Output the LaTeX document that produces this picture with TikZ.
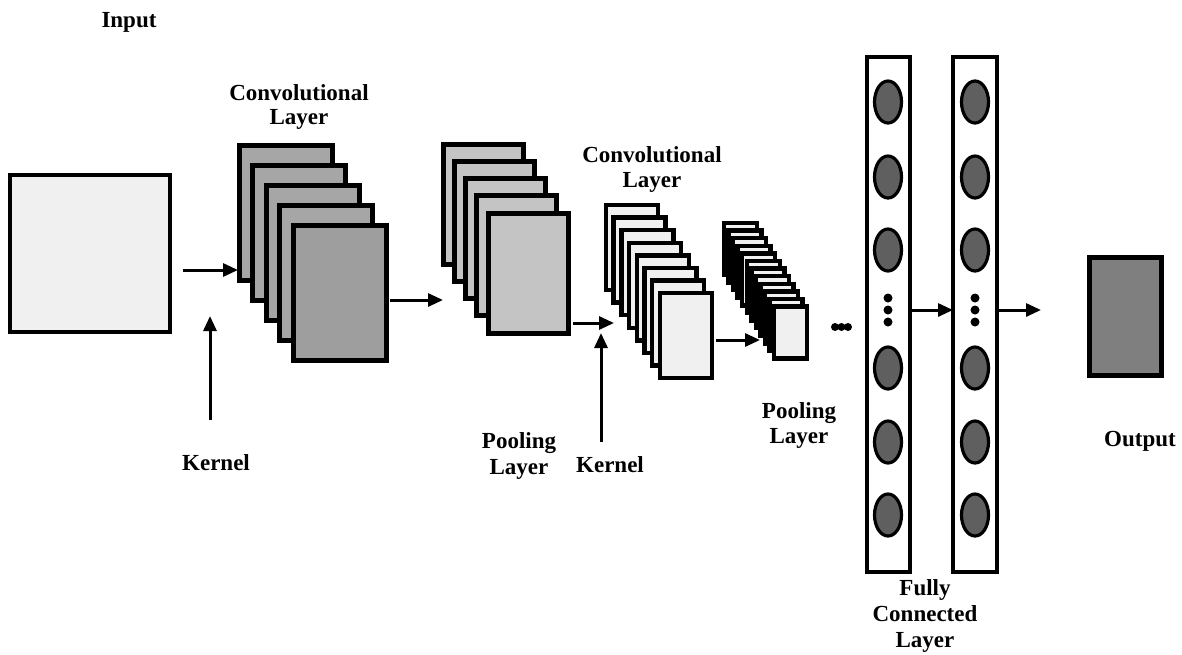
\documentclass[tikz,border=0pt]{standalone}
\usepackage{fontspec}
\setmainfont{Liberation Serif}
\usetikzlibrary{arrows.meta,shapes.geometric}
\definecolor{lightfill}{HTML}{F0F0F0}
\definecolor{convfill}{HTML}{A6A6A6}
\definecolor{convfront}{HTML}{9E9E9E}
\definecolor{poolfill}{HTML}{C4C4C4}
\definecolor{nodefill}{HTML}{5F5F5F}
\definecolor{outfill}{HTML}{7F7F7F}
\begin{document}
\begin{tikzpicture}[x=1pt,y=-1pt,
  lbl/.style={font=\fontsize{23}{25}\selectfont\bfseries, inner sep=0pt, align=center, anchor=north},
  box/.style={draw=black, inner sep=0pt, outer sep=0pt, anchor=north west},
  arr/.style={line width=3pt, -{Triangle[length=15pt,width=13pt]}},
  neuron/.style={ellipse, draw=black, line width=3.2pt, fill=nodefill, minimum width=27pt, minimum height=42pt, inner sep=0pt},
  dot/.style={circle, fill=black, minimum size=9pt, inner sep=0pt}]
\useasboundingbox (0,0) rectangle (1182,654);

% input
\node[box, line width=3.5pt, fill=lightfill, minimum width=160pt, minimum height=157pt] (inp) at (10,175) {};

% conv layer 1
\foreach \i in {0,...,4}
  \node[box, line width=5pt, fill=convfill, minimum width=93pt, minimum height=135pt] (ca\i) at ({239+13.5*\i},{145+20*\i}) {};
\node[box, line width=5pt, fill=convfront, minimum width=93pt, minimum height=135pt] (cafront) at (293,225) {};

% pooling layer 1
\foreach \i in {0,...,4}
  \node[box, line width=5pt, fill=poolfill, minimum width=80pt, minimum height=120pt] (pa\i) at ({443+11.25*\i},{144+17.25*\i}) {};

% conv layer 2
\foreach \i in {0,...,7}
  \node[box, line width=4.5pt, fill=lightfill, minimum width=52pt, minimum height=85pt] (cb\i) at ({606+7.7*\i},{205+12.6*\i}) {};

% pooling layer 2
\foreach \i in {0,...,11}
  \node[box, line width=4.5pt, fill=lightfill, minimum width=33pt, minimum height=52pt] (pb\i) at ({724+4.55*\i},{223+7.6*\i}) {};

% horizontal dots
\foreach \i in {0,1,2}
  \node[dot, minimum size=8pt] (hd\i) at ({835+6.5*\i},327) {};

% fully connected columns
\node[box, line width=4pt, fill=white, minimum width=43pt, minimum height=515pt] (fca) at (867,57) {};
\node[box, line width=4pt, fill=white, minimum width=44pt, minimum height=515pt] (fcb) at (953,57) {};
\foreach \y [count=\k] in {102,177,250,368,442,515} {
  \node[neuron] (na\k) at (888,\y) {};
  \node[neuron] (nb\k) at (975,\y) {};
}
\foreach \y [count=\k] in {298,310,322} {
  \node[dot] (da\k) at (888,\y) {};
  \node[dot] (db\k) at (975,\y) {};
}

% output
\node[box, line width=5pt, fill=outfill, minimum width=72pt, minimum height=118pt] (out) at (1089,257) {};

% arrow end points
\coordinate (a1s) at (183,270);  \coordinate (a1e) at (238,270);
\coordinate (k1s) at (210,420);  \coordinate (k1e) at (210,316);
\coordinate (a2s) at (390,300);  \coordinate (a2e) at (443,300);
\coordinate (a3s) at (573,323);  \coordinate (a3e) at (614,323);
\coordinate (k2s) at (601,442);  \coordinate (k2e) at (601,333);
\coordinate (a4s) at (716,340);  \coordinate (a4e) at (760,340);
\coordinate (a5s) at (910,310);  \coordinate (a5e) at (953,310);
\coordinate (a6s) at (997,310);  \coordinate (a6e) at (1041,310);

\draw[arr] (a1s) -- (a1e);
\draw[arr] (k1s) -- (k1e);
\draw[arr] (a2s) -- (a2e);
\draw[arr] (a3s) -- (a3e);
\draw[arr] (k2s) -- (k2e);
\draw[arr] (a4s) -- (a4e);
\draw[arr] (a5s) -- (a5e);
\draw[arr] (a6s) -- (a6e);

% labels
\node[lbl] (linput) at (129,12) {Input};
\node[lbl, font=\fontsize{23}{24}\selectfont\bfseries] (lconva) at (299,84) {Convolutional\\Layer};
\node[lbl] (lkera) at (216,454) {Kernel};
\node[lbl, font=\fontsize{23}{26}\selectfont\bfseries] (lpoola) at (519,432) {Pooling\\Layer};
\node[lbl] (lkerb) at (610,456) {Kernel};
\node[lbl] (lconvb) at (652,146) {Convolutional\\Layer};
\node[lbl] (lpoolb) at (799,402) {Pooling\\Layer};
\node[lbl, font=\fontsize{23}{26}\selectfont\bfseries] (lfc) at (925,579) {Fully\\Connected\\Layer};
\node[lbl] (lout) at (1140,431) {Output};
\end{tikzpicture}
\end{document}
